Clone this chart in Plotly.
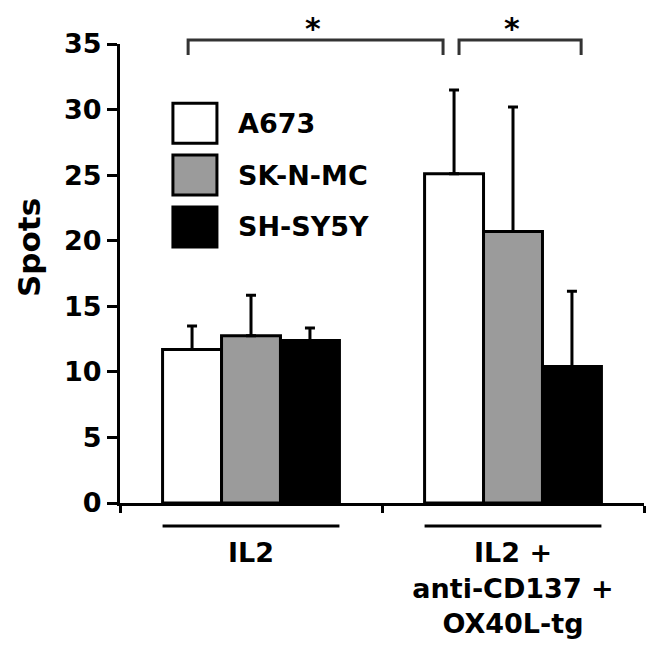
import plotly.graph_objects as go

categories = ["IL2", "IL2 +<br>anti-CD137 +<br>OX40L-tg"]
series_names = ["A673", "SK-N-MC", "SH-SY5Y"]
a673 = [11.7, 25.1]
a673_err = [1.8, 6.4]
sknmc = [12.75, 20.7]
sknmc_err = [3.1, 9.5]
shsy5y = [12.4, 10.4]
shsy5y_err = [0.95, 5.75]
y_ticks = [0, 5, 10, 15, 20, 25, 30, 35]
y_title = "Spots"

values = [a673, sknmc, shsy5y]
errors = [a673_err, sknmc_err, shsy5y_err]
fills = ["#ffffff", "#9b9b9b", "#000000"]

FONT = "DejaVu Sans"
fig = go.Figure()
for name, v, e, c in zip(series_names, values, errors, fills):
    fig.add_trace(go.Bar(
        x=categories, y=v, name=name,
        marker=dict(color=c, line=dict(color="black", width=3)),
        error_y=dict(type="data", array=e, arrayminus=[0] * len(e), symmetric=False,
                     color="black", thickness=3, width=5),
        showlegend=False,
    ))

shapes = []
annotations = []
# custom legend
box_y = [(0.871, 0.784), (0.758, 0.671), (0.645, 0.558)]
for (y1, y0), name, c in zip(box_y, series_names, fills):
    shapes.append(dict(type="rect", xref="paper", yref="paper", x0=0.101, x1=0.185,
                       y0=y0, y1=y1, fillcolor=c, line=dict(color="black", width=3)))
    annotations.append(dict(xref="paper", yref="paper", x=0.222, y=(y0 + y1) / 2,
                            text="<b>%s</b>" % name, showarrow=False, xanchor="left",
                            yanchor="middle", font=dict(family=FONT, size=27, color="black")))

# y-axis title
annotations.append(dict(xref="paper", yref="paper", x=-0.2115, y=0.556, text="<b>%s</b>" % y_title,
                        textangle=-90, showarrow=False, xanchor="left", yanchor="middle",
                        font=dict(family=FONT, size=31, color="black")))

# group underlines
half = 0.3375
for i in range(len(categories)):
    shapes.append(dict(type="line", xref="x", yref="paper", x0=i - half, x1=i + half,
                       y0=-0.050, y1=-0.050, line=dict(color="black", width=3)))

# significance brackets
for (xa, xb), xs in [((-0.24, 0.733), 0.237), ((0.794, 1.26), 0.998)]:
    shapes.append(dict(type="path", xref="x", yref="paper",
                       path="M %f,0.976 L %f,1.0087 L %f,1.0087 L %f,0.976" % (xa, xa, xb, xb),
                       line=dict(color="#333333", width=3)))
    annotations.append(dict(xref="x", yref="paper", x=xs, y=1.0765, text="<b>*</b>",
                            showarrow=False, xanchor="center", yanchor="top",
                            font=dict(family=FONT, size=30, color="black")))

fig.update_layout(
    width=663, height=641,
    margin=dict(l=112, r=27, t=36, b=146),
    paper_bgcolor="white", plot_bgcolor="white",
    barmode="group", bargap=0.325, bargroupgap=0,
    font=dict(family=FONT, size=26, color="black"),
    shapes=shapes, annotations=annotations,
    xaxis=dict(showline=True, linecolor="black", linewidth=3, ticks="outside",
               tickson="boundaries", ticklen=7, tickwidth=3, tickcolor="black",
               tickfont=dict(family=FONT, size=27, color="black"), automargin=False,
               ticklabelstandoff=24, showgrid=False, zeroline=False,
               tickvals=categories, ticktext=["<b>%s</b>" % c for c in categories]),
    yaxis=dict(range=[0, 35], tickvals=y_ticks, ticktext=["<b>%d</b>" % t for t in y_ticks],
               showline=True, linecolor="black", linewidth=3, ticks="outside",
               ticklen=10, tickwidth=3, tickcolor="black", showgrid=False, zeroline=False,
               tickfont=dict(family=FONT, size=27, color="black"), automargin=False),
)
fig.write_html("out.html")
